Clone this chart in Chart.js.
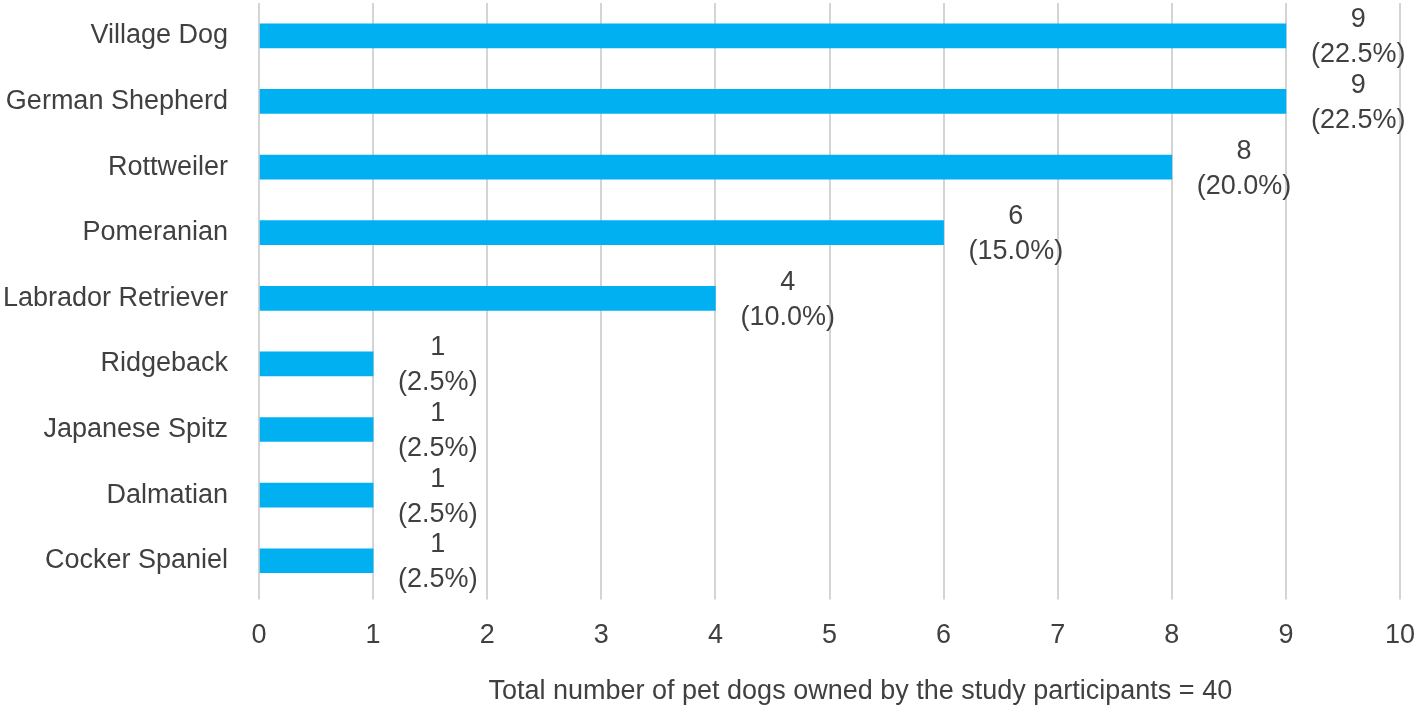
<!DOCTYPE html>
<html>
<head>
<meta charset="utf-8">
<script src="https://cdn.jsdelivr.net/npm/chart.js@4.4.1/dist/chart.umd.min.js"></script>
<style>
  html, body { margin: 0; padding: 0; background: #fff; }
  #wrap { width: 1416px; height: 716px; }
</style>
</head>
<body>
<div id="wrap"><canvas id="chart"></canvas></div>
<script>
const breeds = ['Village Dog', 'German Shepherd', 'Rottweiler', 'Pomeranian', 'Labrador Retriever',
    'Ridgeback', 'Japanese Spitz', 'Dalmatian', 'Cocker Spaniel'];
const counts = [9, 9, 8, 6, 4, 1, 1, 1, 1];
const percents = ['22.5%', '22.5%', '20.0%', '15.0%', '10.0%', '2.5%', '2.5%', '2.5%', '2.5%'];
const xTitle = 'Total number of pet dogs owned by the study participants = 40';

const FONT = 'Arial, "Liberation Sans", sans-serif';
const TEXT = '#404040';

// two-line labels to the right of each bar
const barLabels = {
    id: 'barLabels',
    afterDatasetsDraw(chart) {
        const ctx = chart.ctx;
        const meta = chart.getDatasetMeta(0);
        ctx.save();
        ctx.font = '27px ' + FONT;
        ctx.fillStyle = TEXT;
        ctx.textAlign = 'center';
        ctx.textBaseline = 'middle';
        meta.data.forEach((bar, i) => {
            const line2 = '(' + percents[i] + ')';
            const w = ctx.measureText(line2).width;
            const cx = bar.x + 25 + w / 2;
            ctx.fillText(String(counts[i]), cx, bar.y - 16);
            ctx.fillText(line2, cx, bar.y + 19);
        });
        ctx.restore();
    }
};

// axis caption, sits a bit right of the axis centre like the original
const caption = {
    id: 'caption',
    afterDraw(chart) {
        const a = chart.chartArea;
        const ctx = chart.ctx;
        ctx.save();
        ctx.font = '27px ' + FONT;
        ctx.fillStyle = TEXT;
        ctx.textAlign = 'center';
        ctx.textBaseline = 'middle';
        ctx.fillText(xTitle, a.left + (a.right - a.left) * 0.527, 692);
        ctx.restore();
    }
};

new Chart(document.getElementById('chart'), {
    type: 'bar',
    data: {
        labels: breeds,
        datasets: [{ data: counts, backgroundColor: '#00B0F0', barThickness: 24, borderWidth: 0 }]
    },
    options: {
        indexAxis: 'y',
        responsive: true,
        maintainAspectRatio: false,
        animation: false,
        layout: { padding: { top: 3, right: 0, bottom: 44, left: 0 } },
        plugins: { legend: { display: false }, tooltip: { enabled: false } },
        scales: {
            x: {
                min: 0, max: 10,
                ticks: { stepSize: 1, color: TEXT, font: { family: FONT, size: 27 }, padding: 20 },
                grid: { color: '#d4d4d4', lineWidth: 2, drawTicks: true, tickLength: 6 },
                border: { display: false },
                afterFit(scale) { scale.paddingLeft = 0; scale.paddingRight = 16; }
            },
            y: {
                ticks: { color: TEXT, font: { family: FONT, size: 27 }, padding: 31 },
                grid: { display: false, drawTicks: false },
                border: { display: false },
                // tick padding would otherwise push the plot down from the top
                afterFit(scale) { scale.width = 259; scale.paddingTop = 0; scale.paddingBottom = 0; }
            }
        }
    },
    plugins: [barLabels, caption]
});
</script>
</body>
</html>
